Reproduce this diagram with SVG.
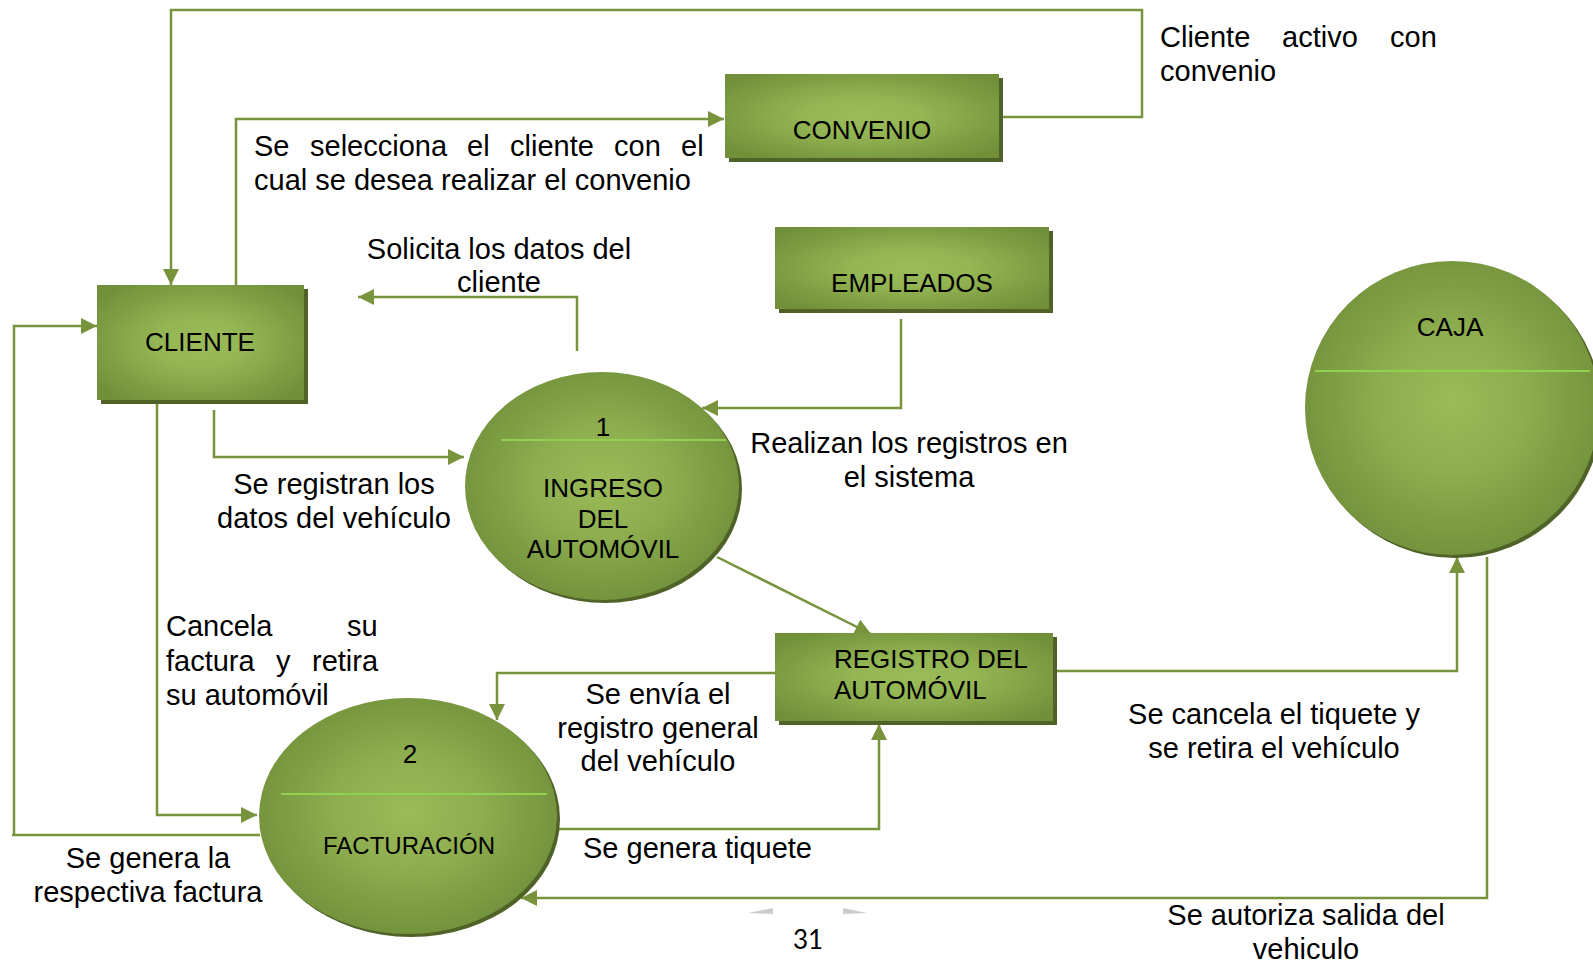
<svg xmlns="http://www.w3.org/2000/svg" width="1593" height="964" viewBox="0 0 1593 964">
<defs>
<radialGradient id="gRect" cx="50%" cy="50%" r="62%">
<stop offset="0%" stop-color="#9bbb59"/>
<stop offset="35%" stop-color="#94b553"/>
<stop offset="100%" stop-color="#72903a"/>
</radialGradient>
<radialGradient id="gEll" cx="50%" cy="48%" r="55%">
<stop offset="0%" stop-color="#9bbb59"/>
<stop offset="45%" stop-color="#8dad4f"/>
<stop offset="100%" stop-color="#71903a"/>
</radialGradient>
<marker id="arr" viewBox="0 0 16 16" refX="16" refY="8" markerWidth="16" markerHeight="16" markerUnits="userSpaceOnUse" orient="auto">
<path d="M0,0 L16,8 L0,16 z" fill="#77933c"/>
</marker>
<style>
.c{fill:none;stroke:#77933c;stroke-width:2.5}
.sh{fill:#4f6228}
.box{fill:url(#gRect)}
.ell{fill:url(#gEll)}
.div{stroke:#92d050;stroke-width:2}
.nl{font-family:"Liberation Sans",Arial,sans-serif;font-size:26px;fill:#000}
.t{font-family:"Liberation Sans",Arial,sans-serif;font-size:29px;fill:#000}
.m{text-anchor:middle}
</style>
</defs>
<rect width="1593" height="964" fill="#ffffff"/>
<g id="connectors">
<path class="c" d="M1002,117 L1142,117 L1142,10 L171,10 L171,285" marker-end="url(#arr)"/>
<path class="c" d="M236,285 L236,119 L724,119" marker-end="url(#arr)"/>
<path class="c" d="M577,351 L577,297 L358,297" marker-end="url(#arr)"/>
<path class="c" d="M901,319 L901,408 L702,408" marker-end="url(#arr)"/>
<path class="c" d="M214,410 L214,457 L464,457" marker-end="url(#arr)"/>
<path class="c" d="M157,403 L157,815 L257,815" marker-end="url(#arr)"/>
<path class="c" d="M260,835 L12,835 M14,835 L14,326 L97,326" marker-end="url(#arr)"/>
<path class="c" d="M717,557 L871,634" marker-end="url(#arr)"/>
<path class="c" d="M775,673 L497,673 L497,720" marker-end="url(#arr)"/>
<path class="c" d="M559,829 L879,829 L879,724" marker-end="url(#arr)"/>
<path class="c" d="M1053,671 L1457,671 L1457,557" marker-end="url(#arr)"/>
<path class="c" d="M1487,557 L1487,898 L521,898" marker-end="url(#arr)"/>
</g>
<g id="convenio">
<rect class="sh" x="729" y="78" width="274" height="84"/>
<rect class="box" x="725" y="74" width="274" height="84"/>
<text class="nl m" x="862" y="139">CONVENIO</text>
</g>
<g id="empleados">
<rect class="sh" x="779" y="231" width="274" height="82"/>
<rect class="box" x="775" y="227" width="274" height="82"/>
<text class="nl m" x="912" y="292">EMPLEADOS</text>
</g>
<g id="cliente">
<rect class="sh" x="101" y="289" width="207" height="115"/>
<rect class="box" x="97" y="285" width="207" height="115"/>
<text class="nl m" x="200" y="351">CLIENTE</text>
</g>
<g id="registro">
<rect class="sh" x="779" y="637" width="278" height="88"/>
<rect class="box" x="775" y="633" width="278" height="88"/>
<text class="nl" x="834" y="668">REGISTRO DEL</text>
<text class="nl" x="834" y="699">AUTOMÓVIL</text>
</g>
<g id="ingreso">
<ellipse class="sh" cx="605" cy="489" rx="137" ry="114"/>
<ellipse class="ell" cx="602" cy="486" rx="137" ry="114"/>
<line class="div" x1="501" y1="440" x2="726" y2="440"/>
<text class="nl m" x="603" y="436">1</text>
<text class="nl m" x="603" y="497">INGRESO</text>
<text class="nl m" x="603" y="528">DEL</text>
<text class="nl m" x="603" y="558">AUTOMÓVIL</text>
</g>
<g id="facturacion">
<ellipse class="sh" cx="411" cy="819" rx="149" ry="118"/>
<ellipse class="ell" cx="408" cy="816" rx="149" ry="118"/>
<line class="div" x1="281" y1="794" x2="547" y2="794"/>
<text class="nl m" x="410" y="763">2</text>
<text class="nl m" x="409" y="854" style="font-size:24px">FACTURACIÓN</text>
</g>
<g id="caja">
<ellipse class="sh" cx="1455" cy="411" rx="147" ry="147"/>
<ellipse class="ell" cx="1452" cy="408" rx="147" ry="147"/>
<line class="div" x1="1315" y1="371" x2="1590" y2="371"/>
<text class="nl m" x="1450" y="336">CAJA</text>
</g>
<g id="labels">
<text class="t"><tspan x="1160" y="47">Cliente</tspan><tspan x="1282" y="47">activo</tspan><tspan x="1390" y="47">con</tspan><tspan x="1160" y="81">convenio</tspan></text>
<text class="t"><tspan x="254" y="156">Se</tspan><tspan x="310" y="156">selecciona</tspan><tspan x="467" y="156">el</tspan><tspan x="510" y="156">cliente</tspan><tspan x="614" y="156">con</tspan><tspan x="681" y="156">el</tspan><tspan x="254" y="190">cual se desea realizar el convenio</tspan></text>
<text class="t m"><tspan x="499" y="259">Solicita los datos del</tspan><tspan x="499" y="292">cliente</tspan></text>
<text class="t m"><tspan x="909" y="453">Realizan los registros en</tspan><tspan x="909" y="487">el sistema</tspan></text>
<text class="t m"><tspan x="334" y="494">Se registran los</tspan><tspan x="334" y="528">datos del vehículo</tspan></text>
<text class="t"><tspan x="166" y="636">Cancela</tspan><tspan x="347" y="636">su</tspan><tspan x="166" y="671">factura</tspan><tspan x="276" y="671">y</tspan><tspan x="312" y="671">retira</tspan><tspan x="166" y="705">su automóvil</tspan></text>
<text class="t m"><tspan x="658" y="704">Se envía el</tspan><tspan x="658" y="738">registro general</tspan><tspan x="658" y="771">del vehículo</tspan></text>
<text class="t"><tspan x="583" y="858">Se genera tiquete</tspan></text>
<text class="t m"><tspan x="148" y="868">Se genera la</tspan><tspan x="148" y="902">respectiva factura</tspan></text>
<text class="t m"><tspan x="1274" y="724">Se cancela el tiquete y</tspan><tspan x="1274" y="758">se retira el vehículo</tspan></text>
<text class="t m"><tspan x="1306" y="925">Se autoriza salida del</tspan><tspan x="1306" y="959">vehiculo</tspan></text>
</g>
<g id="footer">
<polygon points="748,913 773,908 773,914" fill="#cccccc"/>
<polygon points="843,908 843,914 867,913" fill="#cccccc"/>
<text x="808" y="949" text-anchor="middle" font-family="Lato, 'Open Sans', sans-serif" font-size="26" fill="#000">31</text>
</g>
</svg>
